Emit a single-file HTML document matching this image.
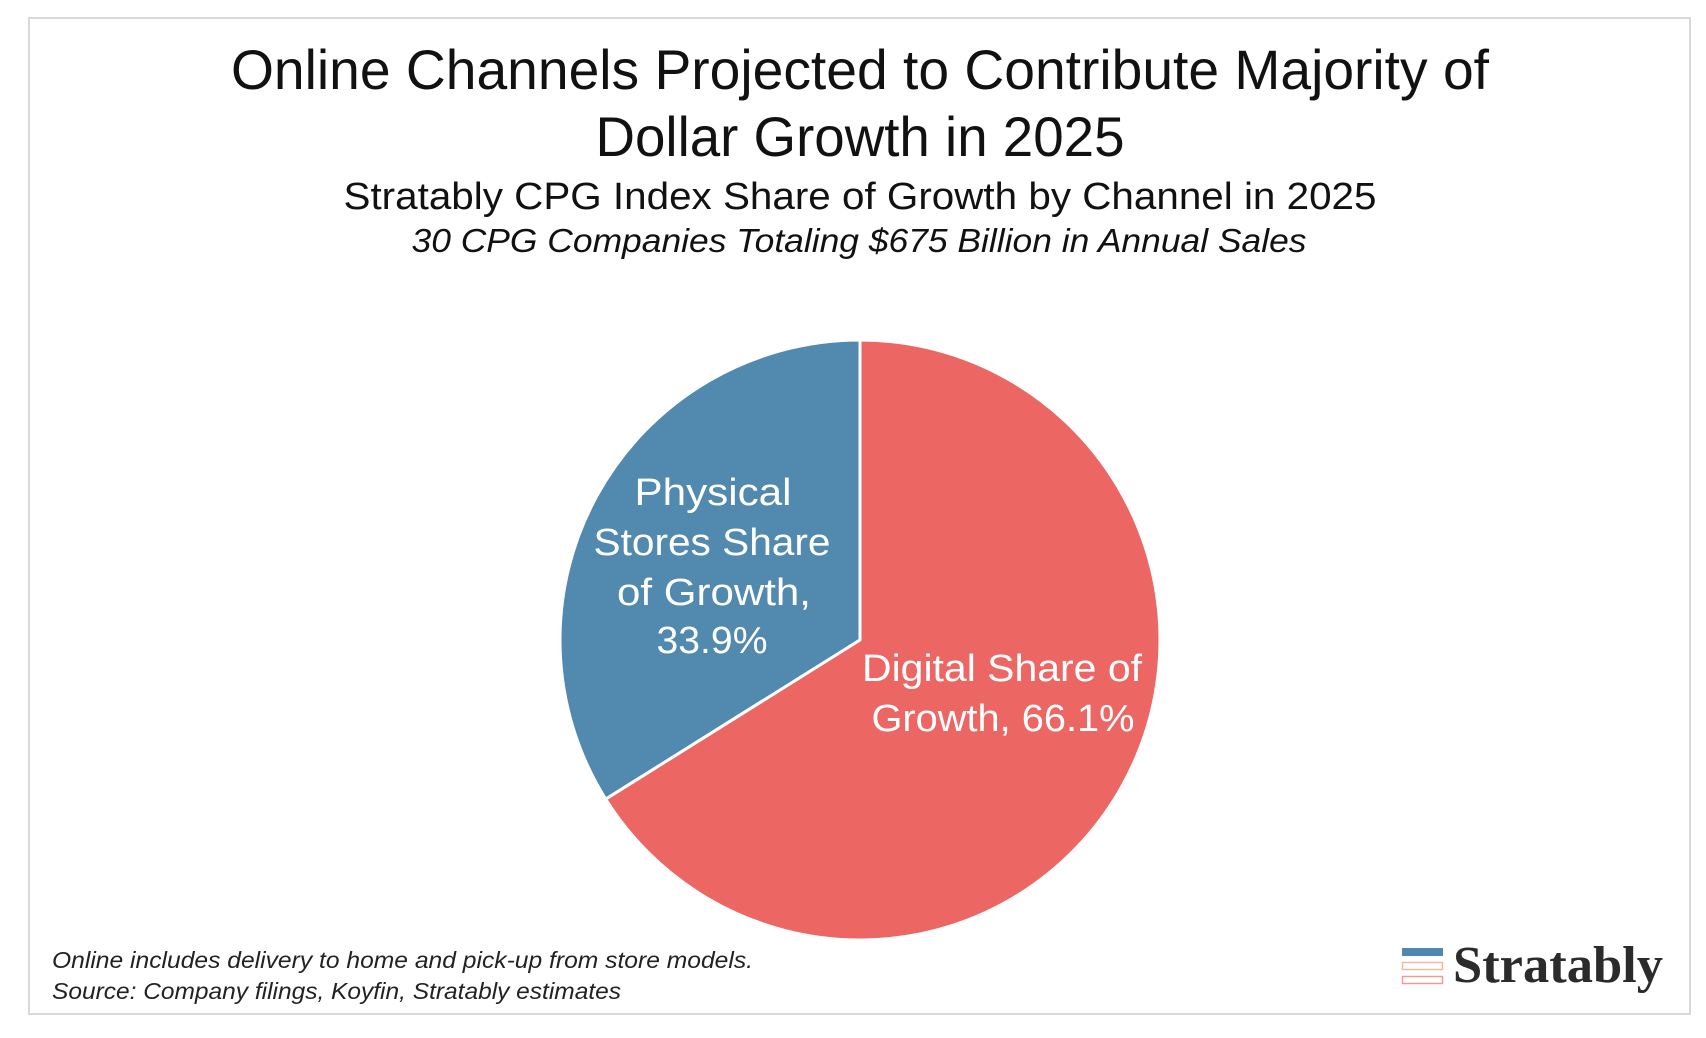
<!DOCTYPE html>
<html><head><meta charset="utf-8"><style>
html,body{margin:0;padding:0;background:#fff;}
svg{display:block;font-family:"Liberation Sans",sans-serif;}
</style></head><body>
<svg id="chart" width="1706" height="1038" viewBox="0 0 1706 1038">
<rect x="29" y="18" width="1661" height="996" fill="#fff" stroke="#d9d9d9" stroke-width="2"/>
<text x="860" y="89" text-anchor="middle" font-size="56" fill="#111" textLength="1258" lengthAdjust="spacingAndGlyphs">Online Channels Projected to Contribute Majority of</text>
<text x="860" y="156" text-anchor="middle" font-size="56" fill="#111" textLength="529" lengthAdjust="spacingAndGlyphs">Dollar Growth in 2025</text>
<text x="860" y="209" text-anchor="middle" font-size="38" fill="#111" textLength="1033" lengthAdjust="spacingAndGlyphs">Stratably CPG Index Share of Growth by Channel in 2025</text>
<text x="859" y="252" text-anchor="middle" font-size="33" font-style="italic" fill="#111" textLength="895" lengthAdjust="spacingAndGlyphs">30 CPG Companies Totaling $675 Billion in Annual Sales</text>
<g id="pie"></g>
<g id="labels" font-size="38" fill="#fff" text-anchor="middle">
<text x="713" y="505" textLength="157" lengthAdjust="spacingAndGlyphs" fill="#fff">Physical</text>
<text x="712" y="555" textLength="237" lengthAdjust="spacingAndGlyphs" fill="#fff">Stores Share</text>
<text x="714" y="605" textLength="194" lengthAdjust="spacingAndGlyphs" fill="#fff">of Growth,</text>
<text x="712" y="653" textLength="111" lengthAdjust="spacingAndGlyphs" fill="#fff">33.9%</text>
<text x="1002" y="681" textLength="280" lengthAdjust="spacingAndGlyphs" fill="#fff">Digital Share of</text>
<text x="1003" y="731" textLength="263" lengthAdjust="spacingAndGlyphs" fill="#fff">Growth, 66.1%</text>
</g>
<text x="52" y="968" font-size="23" font-style="italic" fill="#222" textLength="701" lengthAdjust="spacingAndGlyphs">Online includes delivery to home and pick-up from store models.</text>
<text x="52" y="999" font-size="23" font-style="italic" fill="#222" textLength="569" lengthAdjust="spacingAndGlyphs">Source: Company filings, Koyfin, Stratably estimates</text>
<g>
<rect x="1402" y="948" width="41" height="8" fill="#4f87b0"/>
<rect x="1402.5" y="962.5" width="40" height="7" fill="none" stroke="#f3b9a0" stroke-width="1.5"/>
<rect x="1402.5" y="976.5" width="40" height="7" fill="none" stroke="#f09a9a" stroke-width="1.5"/>
<text x="1453" y="982" font-family="Liberation Serif,serif" font-weight="bold" font-size="52" fill="#2b2b2b" textLength="210" lengthAdjust="spacingAndGlyphs">Stratably</text>
</g>
</svg>
<script>
const categories = ["Physical Stores", "Digital"];
const shares = [33.9, 66.1];
const colors = ["#5189af", "#ec6764"];
const cx = 860, cy = 640, r = 300;
const pie = document.getElementById('pie');
const total = shares.reduce((a,b)=>a+b,0);
// physical goes counterclockwise from top, digital clockwise from top
function pt(frac){ const a = -Math.PI/2 + frac*2*Math.PI; return [cx + r*Math.cos(a), cy + r*Math.sin(a)]; }
let start = -shares[0]/total;
shares.forEach((v,i)=>{
  const f0 = start, f1 = start + v/total;
  const p0 = pt(f0), p1 = pt(f1);
  const large = (v/total) > 0.5 ? 1 : 0;
  const path = document.createElementNS('http://www.w3.org/2000/svg','path');
  path.setAttribute('d', `M${cx},${cy} L${p0[0]},${p0[1]} A${r},${r} 0 ${large} 1 ${p1[0]},${p1[1]} Z`);
  path.setAttribute('fill', colors[i]);
  path.setAttribute('stroke', '#fff');
  path.setAttribute('stroke-width', '3');
  path.setAttribute('stroke-linejoin', 'round');
  
  
  pie.appendChild(path);
  start = f1;
});
</script>
</body></html>
